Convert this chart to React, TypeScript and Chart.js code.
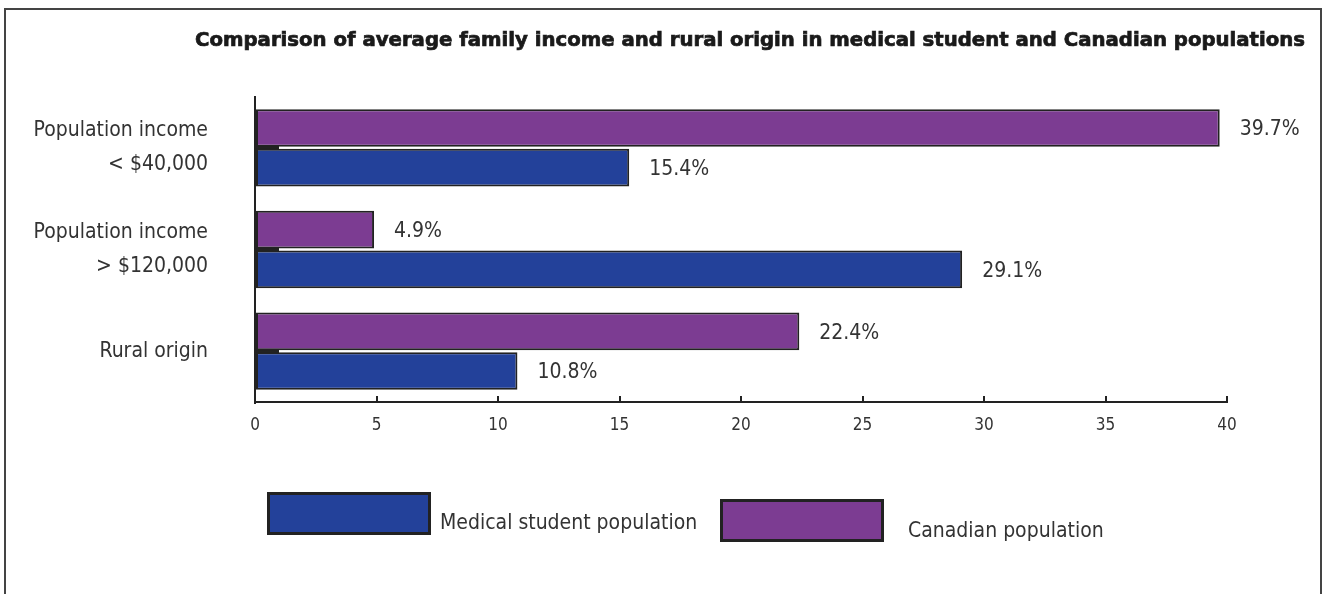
import React, { useEffect, useRef } from "react";
import { Chart, registerables } from "chart.js";

Chart.register(...registerables);

const titleText =
  "Comparison of average family income and rural origin in medical student and Canadian populations";
const categories: string[][] = [
  ["Population income", "< $40,000"],
  ["Population income", "> $120,000"],
  ["Rural origin"],
];
const seriesNames = ["Canadian population", "Medical student population"];
const canadianValues = [39.7, 4.9, 22.4];
const medicalValues = [15.4, 29.1, 10.8];
const xMin = 0;
const xMax = 40;
const xStep = 5;

const PURPLE = "#7c3c92";
const BLUE = "#23419a";
const EDGE = "#222222";
const NARROW = '"Liberation Sans Narrow", "DejaVu Sans Condensed", "Liberation Sans", sans-serif';

const titlePlugin = {
  id: "titleText",
  afterDraw(chart: any) {
    const { ctx, chartArea } = chart;
    ctx.save();
    ctx.font = 'bold 19px "DejaVu Sans", "Liberation Sans", Arial, sans-serif';
    ctx.fillStyle = "#1a1a1a";
    ctx.strokeStyle = "#1a1a1a";
    ctx.lineWidth = 0.7;
    ctx.textAlign = "center";
    ctx.textBaseline = "middle";
    const w = ctx.measureText(titleText).width;
    const sx = 1110 / w;
    ctx.translate((chartArea.left + chartArea.right) / 2 + 9, 41);
    ctx.scale(sx, 1);
    ctx.fillText(titleText, 0, 0);
    ctx.strokeText(titleText, 0, 0);
    ctx.restore();
  },
};

const valueLabelPlugin = {
  id: "valueLabels",
  afterDatasetsDraw(chart: any) {
    const { ctx } = chart;
    ctx.save();
    ctx.font = "21px " + NARROW;
    ctx.fillStyle = "#333333";
    ctx.textAlign = "left";
    ctx.textBaseline = "middle";
    chart.data.datasets.forEach((ds: any, i: number) => {
      const meta = chart.getDatasetMeta(i);
      meta.data.forEach((el: any, j: number) => {
        ctx.fillText(ds.data[j].toFixed(1) + "%", el.x + 20, el.y + 2);
      });
    });
    ctx.restore();
  },
};

// legend drawn with boxes + labels from the datasets (medical first, then Canadian)
const legendPlugin = {
  id: "customLegend",
  afterDraw(chart: any) {
    const { ctx } = chart;
    const entries = [
      { ds: chart.data.datasets[1], box: [267, 492, 164, 43], text: [440, 524] },
      { ds: chart.data.datasets[0], box: [720, 499, 164, 43], text: [908, 532] },
    ];
    ctx.save();
    entries.forEach((e) => {
      const [bx, by, bw, bh] = e.box;
      ctx.fillStyle = e.ds.backgroundColor;
      ctx.fillRect(bx, by, bw, bh);
      ctx.lineWidth = 3;
      ctx.strokeStyle = EDGE;
      ctx.strokeRect(bx + 1.5, by + 1.5, bw - 3, bh - 3);
      ctx.font = "21px " + NARROW;
      ctx.fillStyle = "#333333";
      ctx.textAlign = "left";
      ctx.textBaseline = "middle";
      ctx.fillText(e.ds.label, e.text[0], e.text[1]);
    });
    ctx.restore();
  },
};

export default function App() {
  const canvasRef = useRef<HTMLCanvasElement | null>(null);

  useEffect(() => {
    if (!canvasRef.current) return;
    const chart = new Chart(canvasRef.current, {
      type: "bar",
      data: {
        labels: categories,
        datasets: [
          {
            label: seriesNames[0],
            data: canadianValues,
            backgroundColor: PURPLE,
            borderColor: EDGE,
            borderWidth: 2,
            borderSkipped: false,
            categoryPercentage: 0.78,
            barPercentage: 0.95,
          },
          {
            label: seriesNames[1],
            data: medicalValues,
            backgroundColor: BLUE,
            borderColor: EDGE,
            borderWidth: 2,
            borderSkipped: false,
            categoryPercentage: 0.78,
            barPercentage: 0.95,
          },
        ],
      },
      options: {
        indexAxis: "y",
        responsive: false,
        animation: false,
        layout: { padding: { top: 97, right: 98, bottom: 0, left: 0 } },
        plugins: {
          legend: { display: false },
          title: { display: false },
          tooltip: { enabled: false },
        },
        scales: {
          x: {
            type: "linear",
            min: xMin,
            max: xMax,
            ticks: {
              stepSize: xStep,
              color: "#333333",
              font: { family: NARROW, size: 17 },
              padding: 19,
            },
            grid: {
              display: true,
              drawOnChartArea: false,
              drawTicks: true,
              tickLength: -6,
              color: EDGE,
              lineWidth: 2,
            },
            border: { display: true, color: EDGE, width: 2 },
            afterFit(scale: any) {
              scale.height = 192;
            },
          },
          y: {
            type: "category",
            ticks: {
              color: "#333333",
              font: { family: NARROW, size: 21, lineHeight: 1.6 },
              padding: 71,
            },
            grid: {
              display: true,
              offset: false,
              drawOnChartArea: false,
              drawTicks: true,
              tickLength: -24,
              color: EDGE,
              lineWidth: 3,
            },
            border: { display: true, color: EDGE, width: 2 },
            afterFit(scale: any) {
              scale.width = 255;
            },
          },
        },
      },
      plugins: [titlePlugin, valueLabelPlugin, legendPlugin],
    } as any);
    return () => chart.destroy();
  }, []);

  return (
    <div
      style={{
        position: "absolute",
        left: 0,
        top: 0,
        width: 1325,
        height: 594,
        overflow: "hidden",
        background: "#ffffff",
      }}
    >
      <canvas
        ref={canvasRef}
        width={1325}
        height={594}
        style={{ position: "absolute", left: 0, top: 0, width: 1325, height: 594 }}
      />
      <div
        style={{
          position: "absolute",
          left: 4,
          top: 8,
          width: 1318,
          height: 700,
          boxSizing: "border-box",
          borderTop: "2px solid #444",
          borderLeft: "2px solid #444",
          borderRight: "2px solid #444",
          pointerEvents: "none",
        }}
      />
    </div>
  );
}
